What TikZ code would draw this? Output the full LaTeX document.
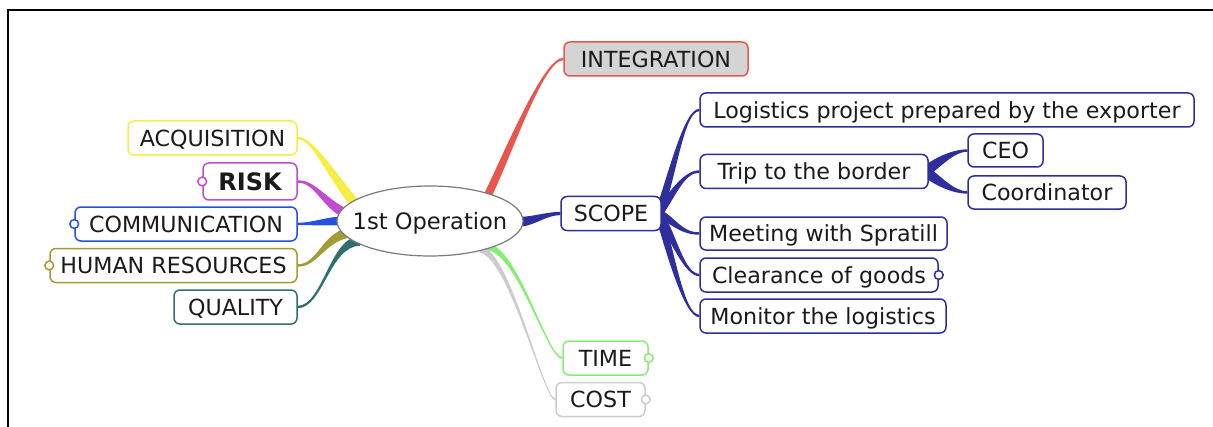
\documentclass[tikz,border=0pt]{standalone}
\usepackage{fontspec}
\setmainfont{DejaVu Sans}
\usetikzlibrary{calc,shapes.geometric,backgrounds}

\definecolor{yel}{HTML}{F5EE45}
\definecolor{mag}{HTML}{C04CCF}
\definecolor{blu}{HTML}{2452DC}
\definecolor{oli}{HTML}{A09D33}
\definecolor{tea}{HTML}{2F6F6C}
\definecolor{redb}{HTML}{E8564D}
\definecolor{dblue}{HTML}{2E2E9C}
\definecolor{grn}{HTML}{86EE74}
\definecolor{gryb}{HTML}{CCCCCC}
\definecolor{igfill}{HTML}{D4D4D4}
\definecolor{rootline}{HTML}{7A7A7A}
\definecolor{ink}{HTML}{1A1A1A}

% tapered branch: colour, start, first control, second control, end,
% half width at the start, half width at the end
\newcommand\branch[7]{%
  \coordinate (bS) at (#2);
  \coordinate (bE) at (#5);
  \coordinate (bA) at (#3);
  \coordinate (bB) at (#4);
  \coordinate (bS1) at ($(bS)!#6!90:(bA)$);
  \coordinate (bS2) at ($(bS)!#6!-90:(bA)$);
  \coordinate (bE1) at ($(bE)!#7!90:(bB)$);
  \coordinate (bE2) at ($(bE)!#7!-90:(bB)$);
  \fill[#1] (bS1) .. controls ($(bA)+(bS1)-(bS)$) and ($(bB)+(bE2)-(bE)$) .. (bE2)
    -- (bE1) .. controls ($(bB)+(bE1)-(bE)$) and ($(bA)+(bS2)-(bS)$) .. (bS2) -- cycle;
}

\begin{document}
\begin{tikzpicture}[x=0.5pt,y=-0.5pt,
  font=\fontsize{11.1}{13}\selectfont, text=ink,
  box/.style={draw=#1, line width=0.75pt, rounded corners=3pt, fill=white,
    minimum height=17pt, inner sep=0pt, text height=8.1pt, text depth=0pt},
  fold/.style={draw=#1, line width=0.75pt, fill=white}]
\useasboundingbox (0,0) rectangle (1213,427);

% central topic
\node[ellipse, draw=rootline, line width=0.6pt, fill=white, minimum width=93pt,
  minimum height=35pt, inner sep=0pt,
  label={[text height=8.2pt, text depth=0pt, inner sep=0pt,
    font=\fontsize{11.3}{13}\selectfont]center:1st Operation}] (root) at (430,221) {};

% right side
\node[box=redb, fill=igfill, minimum width=92pt] (integ) at (656,59) {INTEGRATION};
\node[box=dblue, minimum width=50pt] (scope) at (611,213.5) {SCOPE};
\node[box=dblue, minimum width=247pt] (logi) at (947,110) {Logistics project prepared by the exporter};
\node[box=dblue, minimum width=114pt] (trip) at (814,171.5) {Trip to the border};
\node[box=dblue, minimum width=37.5pt, minimum height=16.5pt] (ceo) at (1005.5,150.5) {CEO};
\node[box=dblue, minimum width=79pt, minimum height=16.5pt] (coord) at (1047,192.5) {Coordinator};
\node[box=dblue, minimum width=123.5pt, minimum height=16.5pt] (meet) at (823.5,233.5) {Meeting with Spratill};
\node[box=dblue, minimum width=119pt] (clear) at (819,275) {Clearance of goods};
\node[box=dblue, minimum width=123pt] (moni) at (823,316) {Monitor the logistics};
\node[box=grn, minimum width=42.5pt] (time) at (605.5,358) {TIME};
\node[box=gryb, minimum width=44.5pt] (cost) at (600.5,399.5) {COST};

% left side
\node[box=yel, minimum width=84.5pt] (acq) at (212.5,138) {ACQUISITION};
\node[box=mag, minimum width=47pt, minimum height=18.5pt, text height=8.7pt,
  font=\fontsize{12}{14}\selectfont\bfseries] (risk) at (250,181.5) {RISK};
\node[box=blu, minimum width=111pt] (comm) at (186,224) {COMMUNICATION};
\node[box=oli, minimum width=123.5pt] (hr) at (173.5,265.5) {HUMAN RESOURCES};
\node[box=tea, minimum width=61.5pt] (qual) at (235.5,307) {QUALITY};

% fold markers
\draw[fold=mag] (risk.west) circle (2.2pt);
\draw[fold=blu] (comm.west) circle (2.2pt);
\draw[fold=oli] (hr.west) circle (2.2pt);
\draw[fold=dblue] (clear.east) circle (2.2pt);
\draw[fold=grn] (time.east) circle (2.2pt);
\draw[fold=gryb] (cost.east) circle (2.2pt);

\begin{scope}[on background layer]
  % frame
  \draw[line width=1pt] (8,427) -- (8,10) -- (1213,10);

  % main branches, left
  \branch{yel}{$(root)+(-74,-16)$}{$(bS)+(-25,-30)$}{$(bE)+(15,0)$}{acq.east}{2.4pt}{0.6pt}
  \branch{mag}{$(root)+(-82,-6)$}{$(bS)+(-25,-12)$}{$(bE)+(18,0)$}{risk.east}{2.4pt}{0.6pt}
  \branch{blu}{$(root)+(-88,0)$}{$(bS)+(-15,0)$}{$(bE)+(15,0)$}{comm.east}{2.2pt}{0.6pt}
  \branch{oli}{$(root)+(-82,12)$}{$(bS)+(-25,5)$}{$(bE)+(20,0)$}{hr.east}{2.4pt}{0.6pt}
  \branch{tea}{$(root)+(-70,20)$}{$(bS)+(-30,0)$}{$(bE)+(25,0)$}{qual.east}{2.4pt}{0.6pt}

  % main branches, right
  \branch{redb}{$(root)+(57,-24)$}{$(bS)+(22,-45)$}{$(bE)+(-20,0)$}{integ.west}{2pt}{0.6pt}
  \branch{dblue}{$(root)+(86,1)$}{$(bS)+(18,0)$}{$(bE)+(-15,0)$}{scope.west}{2.5pt}{0.8pt}
  \branch{grn}{$(root)+(58,26)$}{$(bS)+(30,4)$}{$(bE)+(-15,0)$}{time.west}{1.6pt}{0.5pt}
  \branch{gryb}{$(root)+(50,28)$}{$(bS)+(30,5)$}{$(bE)+(-12,0)$}{cost.west}{1.8pt}{0.5pt}

  % SCOPE sub-branches
  \branch{dblue}{$(scope.east)+(-3,0)$}{$(bS)+(14,-40)$}{$(bE)+(-15,0)$}{logi.west}{2pt}{0.6pt}
  \branch{dblue}{$(scope.east)+(-3,0)$}{$(bS)+(14,-20)$}{$(bE)+(-15,0)$}{trip.west}{2pt}{0.6pt}
  \branch{dblue}{$(scope.east)+(-3,0)$}{$(bS)+(16,8)$}{$(bE)+(-18,0)$}{meet.west}{2pt}{0.6pt}
  \branch{dblue}{$(scope.east)+(-3,0)$}{$(bS)+(14,22)$}{$(bE)+(-15,0)$}{clear.west}{2pt}{0.6pt}
  \branch{dblue}{$(scope.east)+(-3,0)$}{$(bS)+(12,40)$}{$(bE)+(-15,0)$}{moni.west}{2pt}{0.6pt}

  % trip sub-branches
  \branch{dblue}{$(trip.east)+(-3,0)$}{$(bS)+(15,-12)$}{$(bE)+(-12,0)$}{ceo.west}{2.6pt}{0.6pt}
  \branch{dblue}{$(trip.east)+(-3,0)$}{$(bS)+(15,12)$}{$(bE)+(-12,0)$}{coord.west}{2.6pt}{0.6pt}
\end{scope}
\end{tikzpicture}
\end{document}
